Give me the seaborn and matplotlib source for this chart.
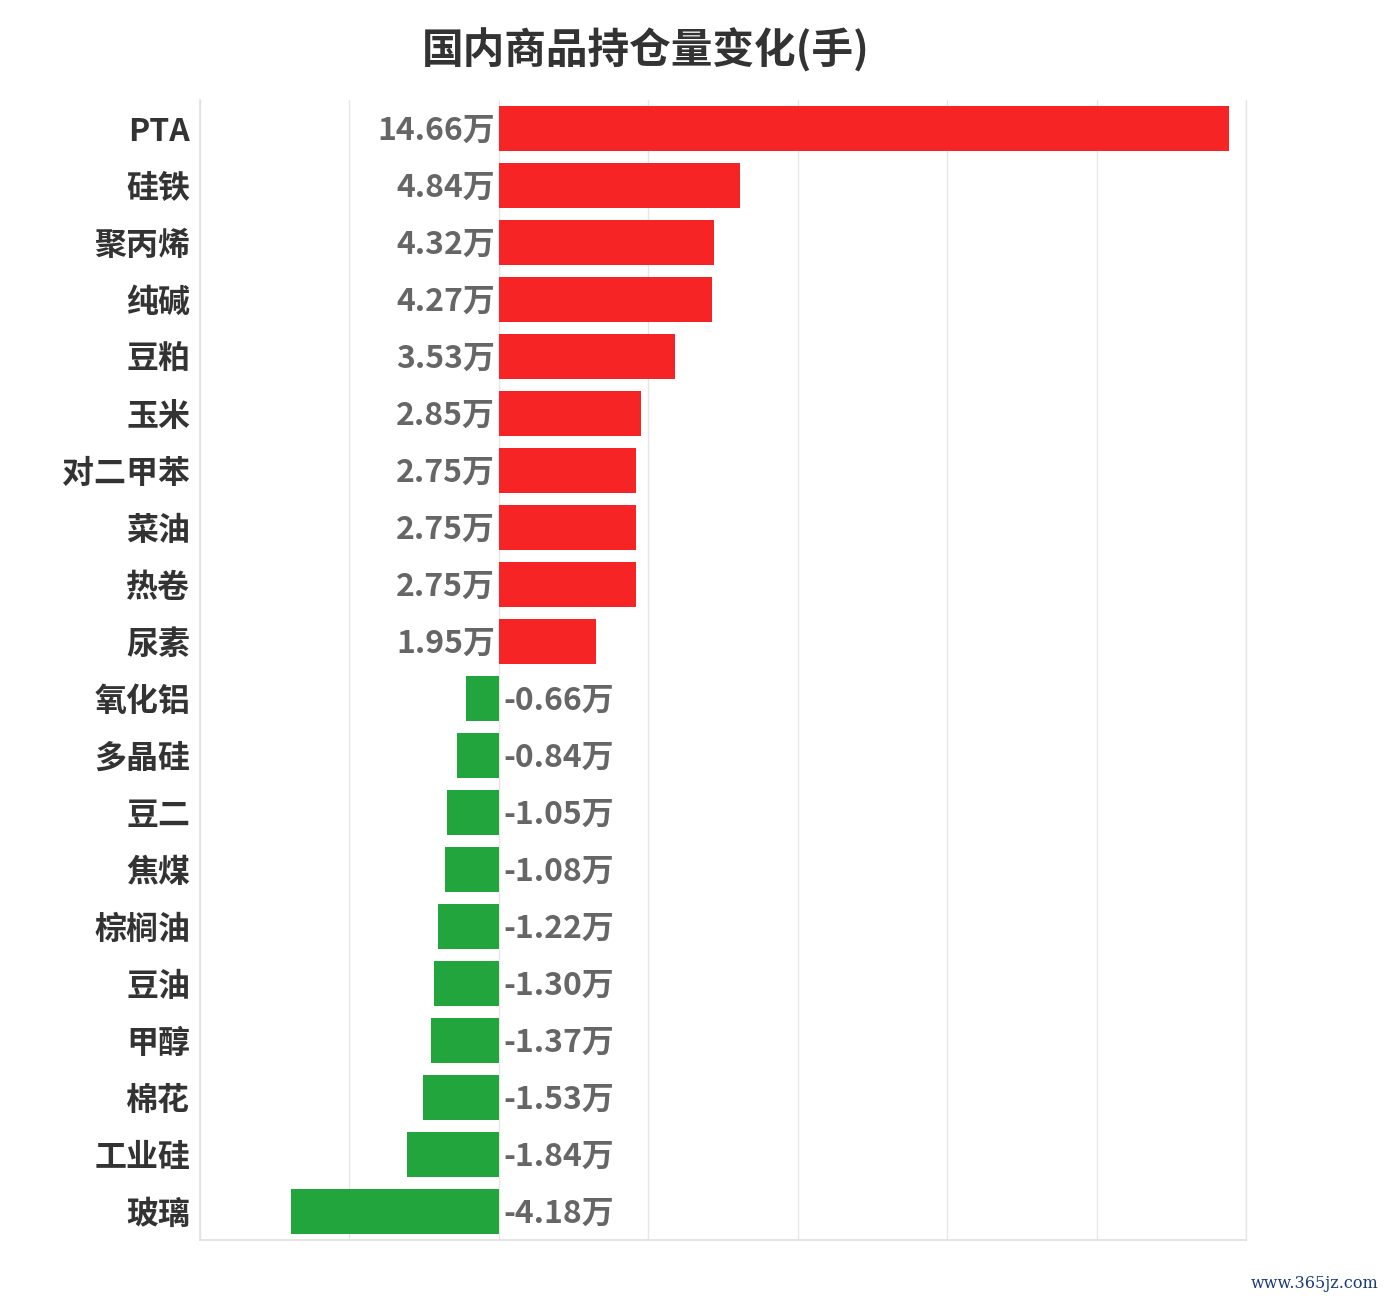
"""
    Domestic commodity open interest change chart.
"""

import pandas as pd
import matplotlib
matplotlib.use("Agg")
import matplotlib.pyplot as plt
import seaborn as sns

# Data (unit: 万手)
products = ['PTA', '硅铁', '聚丙烯', '纯碱', '豆粕', '玉米', '对二甲苯', '菜油', '热卷', '尿素',
            '氧化铝', '多晶硅', '豆二', '焦煤', '棕榈油', '豆油', '甲醇', '棉花', '工业硅', '玻璃']
changes = [14.66, 4.84, 4.32, 4.27, 3.53, 2.85, 2.75, 2.75, 2.75, 1.95,
           -0.66, -0.84, -1.05, -1.08, -1.22, -1.30, -1.37, -1.53, -1.84, -4.18]

df = pd.DataFrame({'product': products, 'change': changes})
df['sign'] = ['up' if v > 0 else 'down' for v in df['change']]

sns.set_style("white")
plt.rcParams['font.family'] = ['Noto Sans CJK SC', 'DejaVu Sans']

fig, ax = plt.subplots(figsize=(13.85, 13.0), dpi=100)
fig.subplots_adjust(left=0.1444, right=0.8997, top=0.9231, bottom=0.0462)

sns.barplot(data=df, x='change', y='product', hue='sign', orient='h',
            palette={'up': '#F72425', 'down': '#21A53C'}, width=0.79,
            saturation=1, dodge=False, legend=False, ax=ax, edgecolor='none')

ax.set_xlim(-6, 15)
ax.set_ylim(19.5, -0.5)
ax.set_xticks(range(-6, 16, 3))
ax.set_xticklabels([])
ax.tick_params(axis='x', length=0)
ax.tick_params(axis='y', length=0, pad=7)
ax.grid(axis='x', color='#e6e6e6', linewidth=1)
ax.set_axisbelow(True)
ax.set_xlabel('')
ax.set_ylabel('')

ax.spines['top'].set_visible(False)
ax.spines['right'].set_color('#e6e6e6')
ax.spines['right'].set_linewidth(1)
for side in ['left', 'bottom']:
    ax.spines[side].set_color('#e0e0e0')
    ax.spines[side].set_linewidth(1.2)

for lbl in ax.get_yticklabels():
    lbl.set_fontsize(23)
    lbl.set_fontweight('bold')
    lbl.set_color('#333333')

# Value labels next to the zero line
for i, v in enumerate(df['change']):
    if v > 0:
        ax.text(-0.08, i + 0.04, f'{v:.2f}万', ha='right', va='center', fontsize=23,
                fontweight='bold', color='#666666')
    else:
        ax.text(0.1, i + 0.04, f'{v:.2f}万', ha='left', va='center', fontsize=23,
                fontweight='bold', color='#666666')

fig.suptitle('国内商品持仓量变化(手)', x=0.4665, y=0.978, fontsize=30,
             fontweight='bold', color='#333333')

fig.text(0.995, 0.006, 'www.365jz.com', ha='right', va='bottom', fontsize=11.5,
         color='#1a3a7a', family=['DejaVu Serif'])

plt.savefig('out.png', dpi=100)
